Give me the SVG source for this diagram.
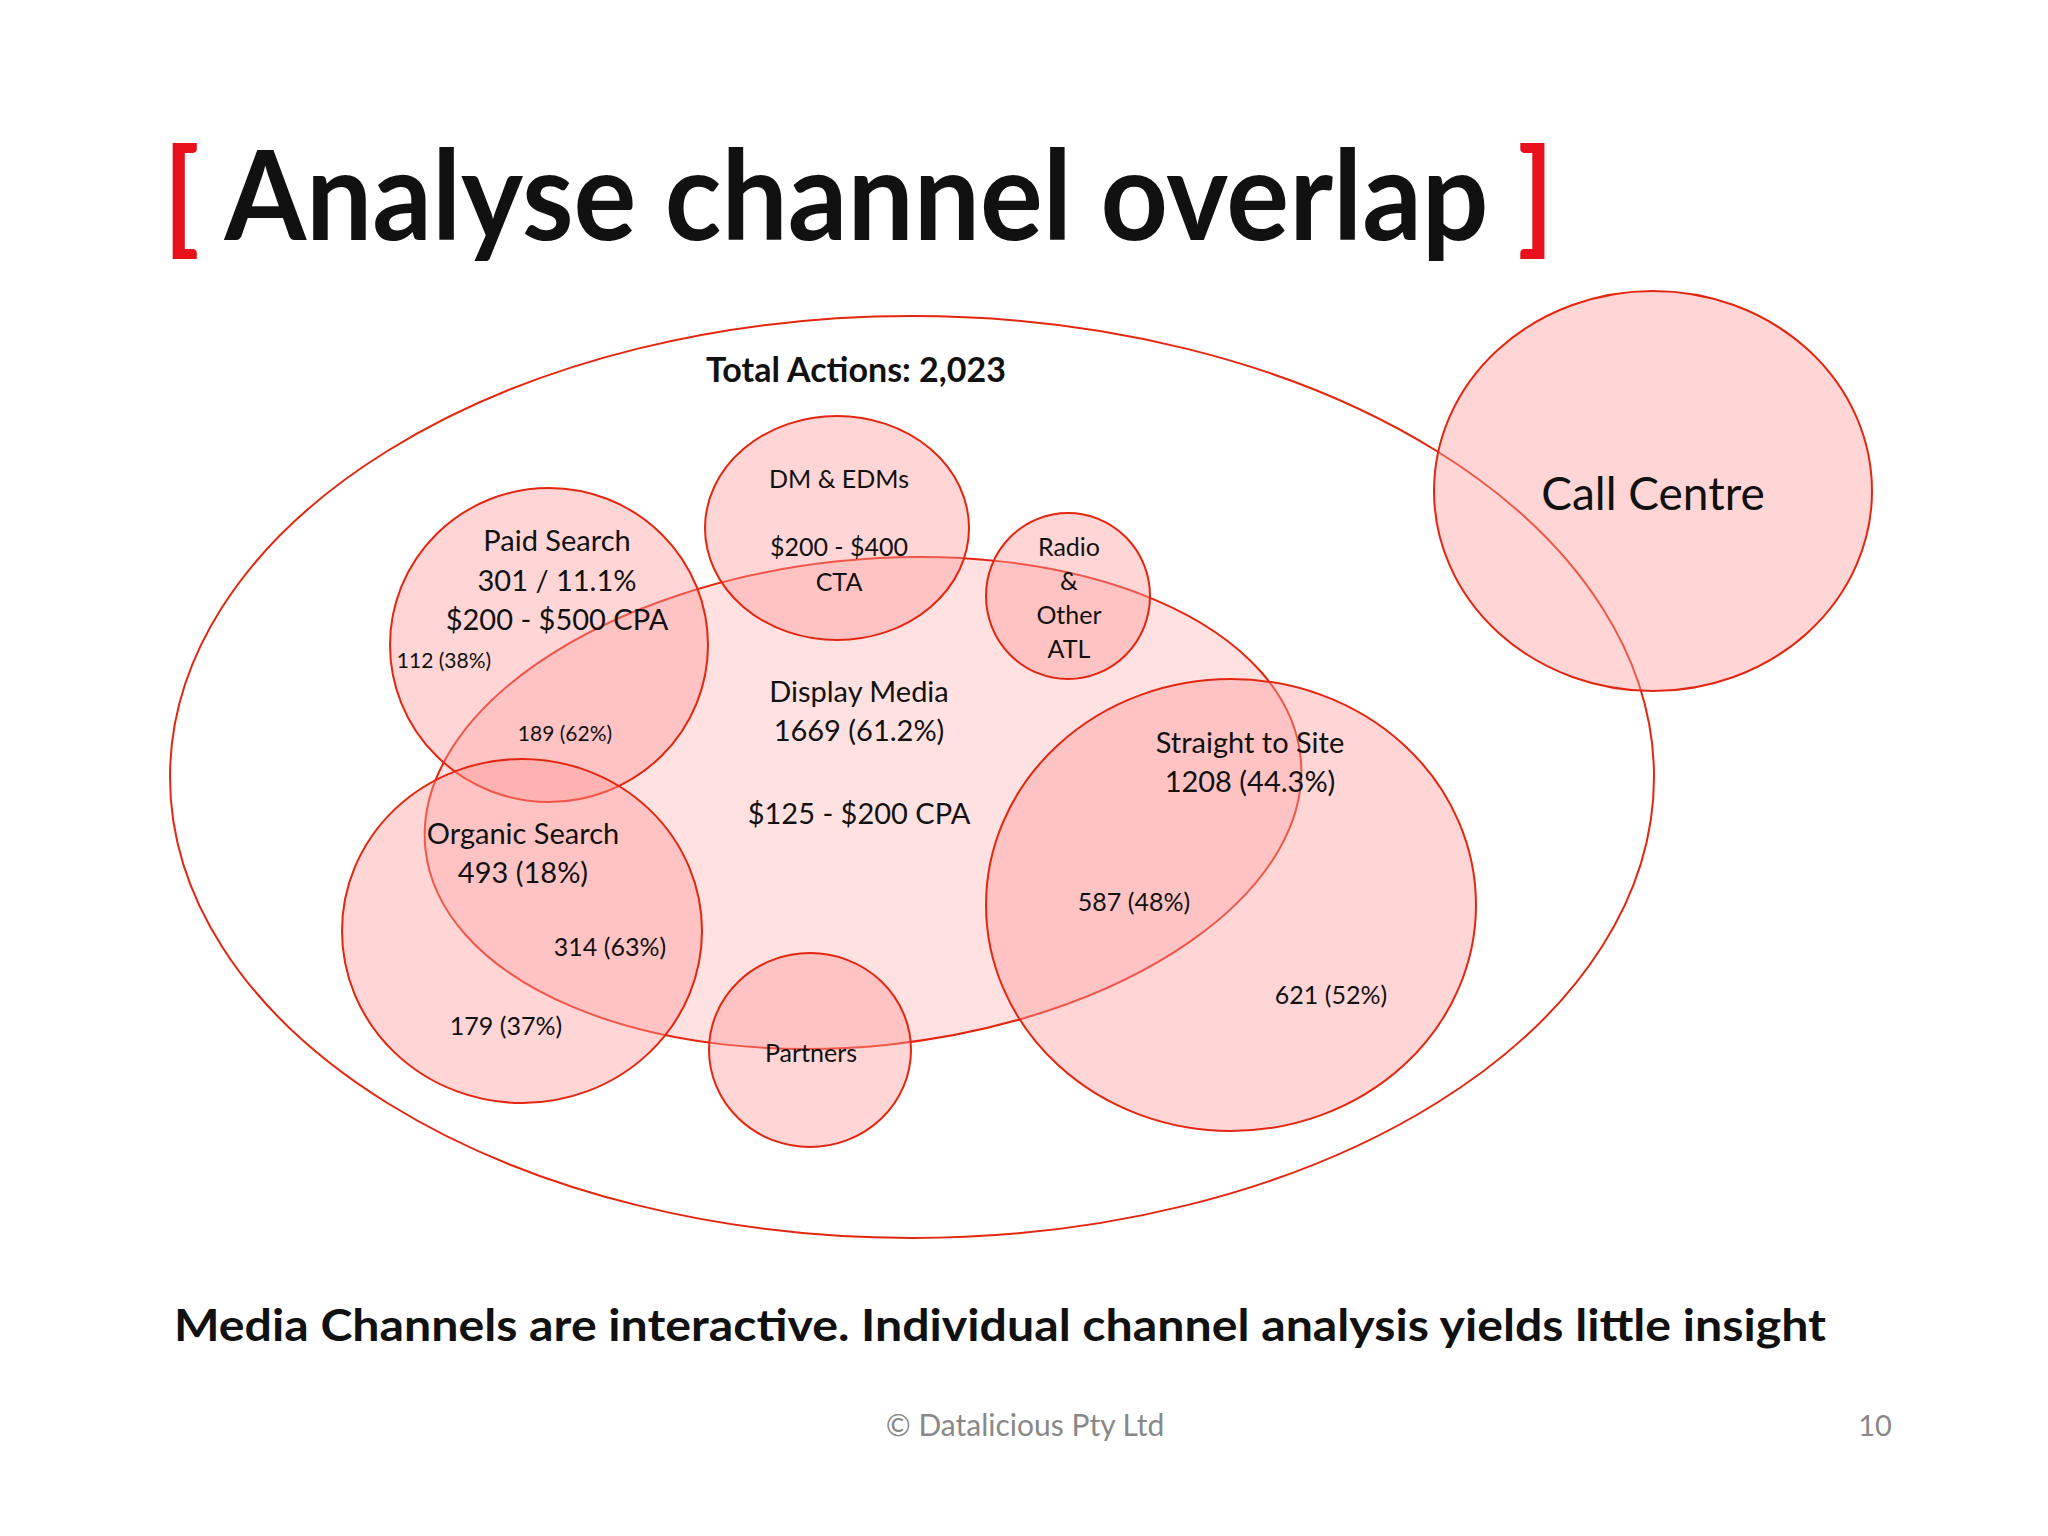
<svg xmlns="http://www.w3.org/2000/svg" width="2048" height="1536" viewBox="0 0 2048 1536">
<style>
text{font-family:Lato,"Open Sans",sans-serif;fill:#111;text-anchor:middle}
.c{fill:#ff9a9a;fill-opacity:0.42;stroke:#e3260f;stroke-width:2}
.m{font-size:29px}.s{font-size:25px}.xs{font-size:21px}
</style>
<rect width="2048" height="1536" fill="#fff"/>
<text x="163" y="240" textLength="1391" lengthAdjust="spacingAndGlyphs" style="font-size:124px;font-weight:bold;text-anchor:start"><tspan fill="#e8101a">[</tspan> Analyse channel overlap <tspan fill="#e8101a">]</tspan></text>
<g id="total"><ellipse cx="912" cy="777" rx="742" ry="461" fill="none" stroke="#e3260f" stroke-width="2"/>
<text x="856" y="382" style="font-size:34px;font-weight:bold">Total Actions: 2,023</text></g>
<g id="display"><ellipse cx="863" cy="803" rx="440" ry="243" transform="rotate(-6 863 803)" class="c" style="fill-opacity:0.3"/>
<text x="859" y="702" class="m">Display Media</text><text x="859" y="741" class="m">1669 (61.2%)</text><text x="859" y="824" class="m">$125 - $200 CPA</text></g>
<g id="paid"><ellipse cx="549" cy="645" rx="159" ry="157" class="c"/>
<text x="557" y="551" class="m">Paid Search</text><text x="557" y="591" class="m">301 / 11.1%</text><text x="557" y="630" class="m">$200 - $500 CPA</text>
<text x="444" y="668" class="xs">112 (38%)</text><text x="565" y="741" class="xs">189 (62%)</text></g>
<g id="dm"><ellipse cx="837" cy="528" rx="132" ry="112" class="c"/>
<text x="839" y="488" class="s">DM &amp; EDMs</text><text x="839" y="556" class="s">$200 - $400</text><text x="839" y="591" class="s">CTA</text></g>
<g id="radio"><ellipse cx="1068" cy="596" rx="82" ry="83" class="c"/>
<text x="1069" y="556" class="s">Radio</text><text x="1069" y="590" class="s">&amp;</text><text x="1069" y="624" class="s">Other</text><text x="1069" y="658" class="s">ATL</text></g>
<g id="organic"><ellipse cx="522" cy="931" rx="180" ry="172" class="c"/>
<text x="523" y="844" class="m">Organic Search</text><text x="523" y="883" class="m">493 (18%)</text>
<text x="610" y="956" class="s">314 (63%)</text><text x="506" y="1035" class="s">179 (37%)</text></g>
<g id="partners"><ellipse cx="810" cy="1050" rx="101" ry="97" class="c"/>
<text x="811" y="1062" class="s">Partners</text></g>
<g id="straight"><ellipse cx="1231" cy="905" rx="245" ry="226" class="c"/>
<text x="1250" y="753" class="m">Straight to Site</text><text x="1250" y="792" class="m">1208 (44.3%)</text>
<text x="1134" y="911" class="s">587 (48%)</text><text x="1331" y="1004" class="s">621 (52%)</text></g>
<g id="callcentre"><ellipse cx="1653" cy="491" rx="219" ry="200" class="c"/>
<text x="1653" y="510" style="font-size:46px">Call Centre</text></g>
<g id="connectors"/>
<text x="174" y="1341" textLength="1652" lengthAdjust="spacingAndGlyphs" style="font-size:44px;font-weight:bold;text-anchor:start">Media Channels are interactive. Individual channel analysis yields little insight</text>
<text x="1025" y="1436" style="font-size:30px;fill:#888">© Datalicious Pty Ltd</text>
<text x="1875" y="1436" style="font-size:29px;fill:#888">10</text>
</svg>
